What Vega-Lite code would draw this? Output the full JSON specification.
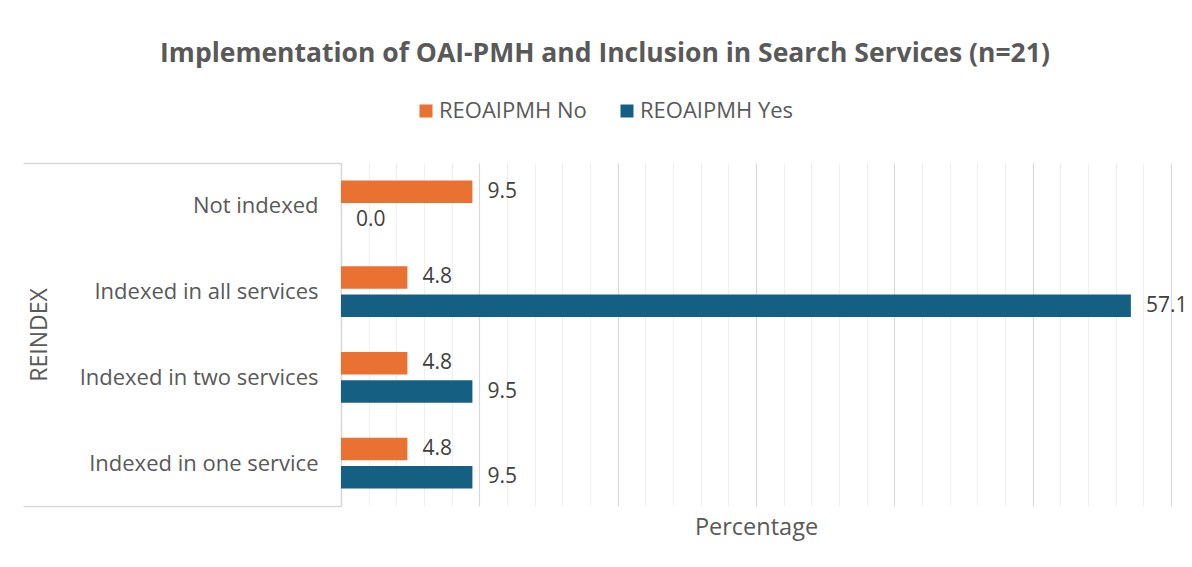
{
  "$schema": "https://vega.github.io/schema/vega-lite/v6.json",
  "width": 830,
  "height": 343,
  "autosize": {"type": "none"},
  "padding": {"left": 341, "top": 163, "right": 21, "bottom": 61},
  "title": {
    "text": "Implementation of OAI-PMH and Inclusion in Search Services (n=21)",
    "font": "Open Sans",
    "fontSize": 26.5,
    "fontWeight": "bold",
    "color": "#595959",
    "anchor": "middle",
    "dx": -151,
    "offset": 33
  },
  "data": {
    "values": [
      {"category": "Not indexed", "group": "REOAIPMH No", "value": 9.5},
      {"category": "Not indexed", "group": "REOAIPMH Yes", "value": 0.0},
      {"category": "Indexed in all services", "group": "REOAIPMH No", "value": 4.8},
      {"category": "Indexed in all services", "group": "REOAIPMH Yes", "value": 57.1},
      {"category": "Indexed in two services", "group": "REOAIPMH No", "value": 4.8},
      {"category": "Indexed in two services", "group": "REOAIPMH Yes", "value": 9.5},
      {"category": "Indexed in one service", "group": "REOAIPMH No", "value": 4.8},
      {"category": "Indexed in one service", "group": "REOAIPMH Yes", "value": 9.5}
    ]
  },
  "encoding": {
    "y": {
      "field": "category",
      "type": "nominal",
      "sort": ["Not indexed", "Indexed in all services", "Indexed in two services", "Indexed in one service"],
      "scale": {"paddingInner": 0, "paddingOuter": 0},
      "axis": {
        "title": "REINDEX",
        "titleFont": "Open Sans",
        "titleFontSize": 23,
        "titleFontWeight": "normal",
        "titleColor": "#595959",
        "titleAngle": -90,
        "titleX": -302,
        "titleY": 171.5,
        "titleAlign": "center",
        "titleBaseline": "middle",
        "labelFont": "Open Sans",
        "labelFontSize": 22,
        "labelColor": "#595959",
        "labelPadding": -295,
        "labelLimit": 400,
        "tickBand": "extent",
        "tickSize": 318,
        "tickWidth": 1.5,
        "tickColor": {"condition": {"test": "datum.index < 0 || datum.index > 0.99", "value": "#d9d9d9"}, "value": "transparent"},
        "domainColor": "#d9d9d9",
        "domainWidth": 1.5,
        "grid": false
      }
    },
    "x": {
      "field": "value",
      "type": "quantitative",
      "scale": {"domain": [0, 60], "nice": false},
      "axis": {
        "values": [0, 2, 4, 6, 8, 10, 12, 14, 16, 18, 20, 22, 24, 26, 28, 30, 32, 34, 36, 38, 40, 42, 44, 46, 48, 50, 52, 54, 56, 58, 60],
        "labels": false,
        "ticks": false,
        "domain": false,
        "grid": true,
        "gridColor": {"condition": {"test": "datum.value % 10 === 0", "value": "#d9d9d9"}, "value": "#efefef"},
        "gridWidth": 1.2,
        "title": "Percentage",
        "titleFont": "Open Sans",
        "titleFontSize": 23.5,
        "titleFontWeight": "normal",
        "titleColor": "#595959",
        "titlePadding": 9
      }
    },
    "yOffset": {
      "field": "group",
      "type": "nominal",
      "scale": {"paddingInner": 0.21, "paddingOuter": 0.614}
    }
  },
  "layer": [
    {
      "mark": {"type": "bar", "cornerRadius": 0},
      "encoding": {
        "color": {
          "field": "group",
          "type": "nominal",
          "scale": {"domain": ["REOAIPMH No", "REOAIPMH Yes"], "range": ["#E97132", "#156082"]},
          "legend": {
            "title": null,
            "orient": "none",
            "direction": "horizontal",
            "legendX": 74,
            "legendY": -63,
            "symbolType": "square",
            "symbolSize": 169,
            "symbolStrokeWidth": 0,
            "symbolOpacity": 1,
            "labelFont": "Open Sans",
            "labelFontSize": 22,
            "labelColor": "#595959",
            "labelOffset": 2,
            "columnPadding": 29,
            "labelLimit": 300
          }
        }
      }
    },
    {
      "mark": {"type": "text", "align": "left", "baseline": "middle", "dx": 15, "font": "Open Sans", "fontSize": 21, "color": "#404040"},
      "encoding": {
        "text": {"field": "value", "type": "quantitative", "format": ".1f"}
      }
    }
  ],
  "config": {
    "view": {"stroke": null},
    "background": "#ffffff"
  }
}
